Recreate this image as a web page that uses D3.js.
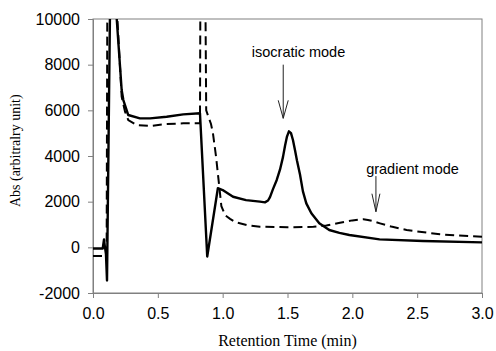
<!DOCTYPE html>
<html>
<head>
<meta charset="utf-8">
<script src="https://cdn.jsdelivr.net/npm/d3@7"></script>
<style>
  body { margin: 0; background: #fff; }
  .tick text { font-family: "Liberation Sans", Arial, sans-serif; font-size: 16px; fill: #000; }
  .tick line, .domain { stroke: #808080; }
</style>
</head>
<body>
<div id="chart"></div>
<script>
// isocratic run (solid line)
const isoTime = [0, 0.075, 0.085, 0.09, 0.1, 0.108, 0.15, 0.183, 0.221, 0.234, 0.272,
  0.362, 0.44, 0.568, 0.696, 0.825, 0.881, 0.963, 1.0, 1.08, 1.18,
  1.287, 1.326, 1.35, 1.365, 1.388, 1.417, 1.442, 1.465, 1.481, 1.496,
  1.511, 1.527, 1.542, 1.558, 1.573, 1.596, 1.619, 1.645, 1.684, 1.745,
  1.822, 1.9, 1.977, 2.21, 2.545, 3.0];
const isoAbs = [-50, -50, 350, 100, -300, -1450, 20000, 10000, 6890, 6450, 5795,
  5650, 5650, 5720, 5825, 5870, -400, 2590, 2510, 2216, 2070,
  2000, 1970, 2050, 2200, 2550, 2950, 3400, 3950, 4450, 4850,
  5080, 5000, 4700, 4250, 3800, 3200, 2450, 1927, 1490, 1050,
  758, 630, 539, 350, 276, 219];

// gradient run (dashed line)
const gradTime = [0, 0.105, 0.115, 0.15, 0.188, 0.221, 0.247, 0.272, 0.337, 0.44,
  0.568, 0.696, 0.825, 0.833, 0.85, 0.868, 0.873, 0.91, 0.925, 0.949,
  0.974, 0.99, 1.02, 1.057, 1.1, 1.185, 1.287, 1.5, 1.7, 1.8,
  1.905, 2.0, 2.05, 2.085, 2.12, 2.15, 2.213, 2.3, 2.419, 2.676, 3.0];
const gradAbs = [-380, -380, 20000, 20000, 10000, 6600, 5940, 5575, 5357, 5313,
  5400, 5430, 5430, 20000, 25000, 10000, 6000, 5400, 5000, 3970,
  2650, 1800, 1400, 1250, 1100, 977, 900, 880, 900, 960,
  1077, 1180, 1215, 1226, 1200, 1160, 1050, 910, 758, 569, 464];

const xTicks = [0, 0.5, 1.0, 1.5, 2.0, 2.5, 3.0];
const yTicks = [-2000, 0, 2000, 4000, 6000, 8000, 10000];

// annotation text + arrow (time, label value, arrow start, arrow tip)
const notes = [
  {label: "isocratic mode", tx: 1.585, ty: 8330, ax: 1.467, from: 8000, to: 5650, head: 5},
  {label: "gradient mode", tx: 2.464, ty: 3210, ax: 2.182, from: 3120, to: 1560, head: 4}
];

const margin = {top: 19, right: 14, bottom: 58, left: 93},
  width = 496 - margin.left - margin.right,
  height = 351 - margin.top - margin.bottom;

const svg = d3.select("#chart")
  .append("svg")
  .attr("width", 496)
  .attr("height", 351)
  .append("g")
  .attr("transform", `translate(${margin.left}, ${margin.top})`);

const x = d3.scaleLinear().domain([0, 3]).range([0, width]);
const y = d3.scaleLinear().domain([-2000, 10000]).range([height, 0]);

svg.append("defs").append("clipPath").attr("id", "plotClip")
  .append("rect").attr("x", 0).attr("y", 0).attr("width", width + 1).attr("height", height);

// frame
svg.append("rect")
  .attr("width", width).attr("height", height)
  .attr("fill", "none").attr("stroke", "#808080");

svg.append("g")
  .call(d3.axisLeft(y).tickValues(yTicks).tickSize(5).tickPadding(8).tickFormat(d => String(d)));

svg.append("g")
  .attr("transform", `translate(0, ${height})`)
  .call(d3.axisBottom(x).tickValues(xTicks).tickSize(5).tickPadding(10).tickFormat(d3.format(".1f")));

const line = d3.line().x(d => x(d[0])).y(d => y(d[1]));

const traces = svg.append("g").attr("clip-path", "url(#plotClip)");

traces.append("path")
  .datum(d3.zip(gradTime, gradAbs))
  .attr("d", line)
  .attr("fill", "none")
  .attr("stroke", "#000")
  .attr("stroke-width", 2)
  .attr("stroke-dasharray", "9,5");

traces.append("path")
  .datum(d3.zip(isoTime, isoAbs))
  .attr("d", line)
  .attr("fill", "none")
  .attr("stroke", "#000")
  .attr("stroke-width", 2.4)
  .attr("stroke-linejoin", "round");

// annotations
for (let n of notes) {
  svg.append("text")
    .attr("x", x(n.tx)).attr("y", y(n.ty))
    .attr("text-anchor", "middle")
    .style("font-family", "'Liberation Sans', Arial, sans-serif")
    .style("font-size", "14.5px")
    .text(n.label);

  let ax = x(n.ax), y0 = y(n.from), y1 = y(n.to);
  svg.append("line")
    .attr("x1", ax).attr("x2", ax).attr("y1", y0).attr("y2", y1)
    .attr("stroke", "#222");
  svg.append("path")
    .attr("d", `M${ax - n.head},${y1 - 18}L${ax},${y1}L${ax + n.head},${y1 - 18}`)
    .attr("fill", "none").attr("stroke", "#222");
}

// axis titles
svg.append("text")
  .attr("x", 194.5).attr("y", 327)
  .attr("text-anchor", "middle")
  .style("font-family", "'Liberation Serif', 'Times New Roman', serif")
  .style("font-size", "16px")
  .text("Retention Time (min)");

svg.append("text")
  .attr("transform", `translate(-78, ${150.7 - margin.top}) rotate(-90)`)
  .attr("text-anchor", "middle")
  .attr("dominant-baseline", "central")
  .style("font-family", "'Liberation Serif', 'Times New Roman', serif")
  .style("font-size", "14px")
  .text("Abs (arbitralry unit)");
</script>
</body>
</html>
